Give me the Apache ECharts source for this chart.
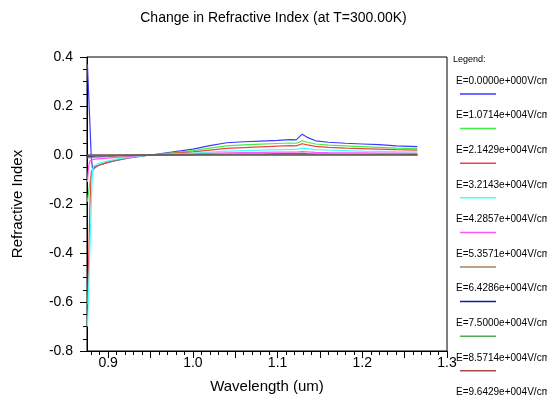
<!DOCTYPE html>
<html>
<head>
<meta charset="utf-8">
<script src="https://cdn.jsdelivr.net/npm/echarts@6/dist/echarts.min.js"></script>
<style>
  html, body { margin: 0; padding: 0; background: #fff; }
  #chart { width: 547px; height: 401px; }
</style>
</head>
<body>
<div id="chart"></div>
<script type="text/javascript">
// wavelength samples (um)
var wavelength = [0.8755, 0.877, 0.8785, 0.880, 0.8815, 0.883, 0.885, 0.888, 0.892, 0.9,
  0.91, 0.925, 0.95, 0.975, 1.0, 1.02, 1.04, 1.06, 1.08, 1.1,
  1.115, 1.122, 1.129, 1.135, 1.145, 1.16, 1.18, 1.2, 1.22, 1.24, 1.265];

var e0 = [0.37, 0.245, 0.119, -0.007, -0.055, -0.05, -0.047, -0.043, -0.038, -0.03,
  -0.022, -0.012, 0.0, 0.012, 0.024, 0.038, 0.05, 0.054, 0.057, 0.06,
  0.063, 0.062, 0.085, 0.072, 0.058, 0.052, 0.048, 0.045, 0.042, 0.037, 0.034];
var e1 = [-0.19, -0.15, -0.11, -0.085, -0.068, -0.057, -0.05, -0.044, -0.038, -0.029,
  -0.02, -0.011, 0.0, 0.009, 0.018, 0.028, 0.037, 0.041, 0.044, 0.047,
  0.049, 0.048, 0.058, 0.052, 0.045, 0.04, 0.037, 0.034, 0.031, 0.028, 0.026];
var e2 = [-0.61, -0.42, -0.2, -0.07, -0.058, -0.053, -0.049, -0.044, -0.038, -0.029,
  -0.02, -0.01, 0.0, 0.007, 0.013, 0.02, 0.027, 0.03, 0.033, 0.036,
  0.038, 0.037, 0.046, 0.041, 0.035, 0.031, 0.028, 0.026, 0.024, 0.022, 0.02];
var e3 = [-0.70, -0.55, -0.38, -0.21, -0.06, -0.045, -0.04, -0.035, -0.03, -0.024,
  -0.017, -0.009, 0.0, 0.005, 0.008, 0.012, 0.016, 0.018, 0.02, 0.022,
  0.023, 0.023, 0.028, 0.026, 0.022, 0.02, 0.018, 0.016, 0.015, 0.014, 0.013];
var e4 = [-0.11, -0.045, -0.024, -0.021, -0.019, -0.018, -0.017, -0.016, -0.015, -0.013,
  -0.01, -0.006, 0.0, 0.003, 0.005, 0.007, 0.009, 0.01, 0.011, 0.012,
  0.012, 0.012, 0.014, 0.013, 0.011, 0.01, 0.009, 0.009, 0.008, 0.008, 0.007];
var e5 = [-0.012, -0.012, -0.011, -0.011, -0.01, -0.01, -0.009, -0.009, -0.008, -0.007,
  -0.005, -0.003, 0.0, 0.001, 0.002, 0.003, 0.004, 0.005, 0.005, 0.006,
  0.006, 0.006, 0.007, 0.006, 0.005, 0.005, 0.004, 0.004, 0.004, 0.004, 0.003];
var e6 = [-0.006, -0.006, -0.005, -0.005, -0.005, -0.005, -0.004, -0.004, -0.004, -0.003,
  -0.002, -0.001, 0.0, 0.001, 0.001, 0.001, 0.002, 0.002, 0.002, 0.003,
  0.003, 0.003, 0.003, 0.003, 0.002, 0.002, 0.002, 0.002, 0.002, 0.002, 0.001];
var e7 = [-0.002, -0.002, -0.002, -0.002, -0.002, -0.002, -0.001, -0.001, -0.001, -0.001,
  -0.001, 0.0, 0.0, 0.0, 0.0, 0.001, 0.001, 0.001, 0.001, 0.001,
  0.001, 0.001, 0.001, 0.001, 0.001, 0.001, 0.001, 0.001, 0.001, 0.001, 0.0];
var e8 = [0.0, 0.0, 0.0, 0.0, 0.0, 0.0, 0.0, 0.0, 0.0, 0.0,
  0.0, 0.0, 0.0, 0.0, 0.0, 0.0, 0.0, 0.0, 0.0, 0.0,
  0.0, 0.0, 0.0, 0.0, 0.0, 0.0, 0.0, 0.0, 0.0, 0.0, 0.0];
var e9 = [0.0, 0.0, 0.0, 0.0, 0.0, 0.0, 0.0, 0.0, 0.0, 0.0,
  0.0, 0.0, 0.0, 0.0, 0.0, 0.0, 0.0, 0.0, 0.0, 0.0,
  0.0, 0.0, 0.0, 0.0, 0.0, 0.0, 0.0, 0.0, 0.0, 0.0, 0.0];

var seriesNames = ['E=0.0000e+000V/cm', 'E=1.0714e+004V/cm', 'E=2.1429e+004V/cm',
  'E=3.2143e+004V/cm', 'E=4.2857e+004V/cm', 'E=5.3571e+004V/cm', 'E=6.4286e+004V/cm',
  'E=7.5000e+004V/cm', 'E=8.5714e+004V/cm', 'E=9.6429e+004V/cm'];
var seriesValues = [e0, e1, e2, e3, e4, e5, e6, e7, e8, e9];
var seriesColors = ['#3b3bff', '#44ee44', '#ee4444', '#44ffff', '#ff55ff',
  '#a8825f', '#1a1a99', '#55aa55', '#aa4848', '#606060'];

var xLabelTicks = [0.9, 1.0, 1.1, 1.2, 1.3];
var xMajorTicks = [0.9, 0.95, 1.0, 1.05, 1.1, 1.15, 1.2, 1.25, 1.3];
var xMinorTicks = [0.88, 0.89, 0.91, 0.92, 0.93, 0.94, 0.96, 0.97, 0.98, 0.99,
  1.01, 1.02, 1.03, 1.04, 1.06, 1.07, 1.08, 1.09, 1.11, 1.12, 1.13, 1.14,
  1.16, 1.17, 1.18, 1.19, 1.21, 1.22, 1.23, 1.24, 1.26, 1.27, 1.28, 1.29];

var font = 'Liberation Sans, Arial, sans-serif';
var myChart = echarts.init(document.getElementById('chart'));

var series = seriesValues.map(function (vals, i) {
  return {
    name: seriesNames[i],
    type: 'line',
    symbol: 'none',
    animation: false,
    lineStyle: { color: seriesColors[i], width: 1.2 },
    data: vals.map(function (v, j) { return [wavelength[j], v]; })
  };
});

// legend: text with a short line beneath it
var graphics = [{
  type: 'text', left: 453, top: 55,
  style: { text: 'Legend:', font: '9px ' + font, fill: '#000' }
}];
seriesNames.forEach(function (n, i) {
  var y = 76 + i * 34.6;
  graphics.push({
    type: 'text', left: 456, top: y,
    style: { text: n, font: '10px ' + font, fill: '#000' }
  });
  graphics.push({
    type: 'line',
    shape: { x1: 460, y1: y + 18, x2: 496, y2: y + 18 },
    style: { stroke: seriesColors[i], lineWidth: 1.5 }
  });
});

var option = {
  backgroundColor: '#fff',
  animation: false,
  title: {
    text: 'Change in Refractive Index (at T=300.00K)',
    left: 'center', top: 6,
    textStyle: { fontFamily: font, fontSize: 14, fontWeight: 'normal', color: '#000' }
  },
  grid: {
    show: true, left: 87, top: 57, right: 100, bottom: 50,
    borderColor: '#000', borderWidth: 1
  },
  xAxis: [{
    type: 'value', min: 0.875, max: 1.3,
    name: 'Wavelength (um)', nameLocation: 'middle', nameGap: 28,
    nameTextStyle: { fontFamily: font, fontSize: 15, color: '#000' },
    axisLine: { onZero: false, lineStyle: { color: '#000' } },
    axisTick: { inside: false, length: 7, customValues: xMajorTicks, lineStyle: { color: '#000' } },
    axisLabel: { customValues: xLabelTicks, margin: 5, fontFamily: font, fontSize: 14, color: '#000',
      formatter: function (v) { return v.toFixed(1); } },
    splitLine: { show: false }
  }, {
    type: 'value', min: 0.875, max: 1.3, position: 'bottom',
    axisLine: { show: false, onZero: false },
    axisTick: { inside: false, length: 4, customValues: xMinorTicks, lineStyle: { color: '#000' } },
    axisLabel: { show: false },
    splitLine: { show: false }
  }],
  yAxis: {
    type: 'value', min: -0.8, max: 0.4, interval: 0.2,
    name: 'Refractive Index', nameLocation: 'middle', nameGap: 62,
    nameTextStyle: { fontFamily: font, fontSize: 15, color: '#000' },
    axisLine: { show: true, onZero: false, lineStyle: { color: '#000' } },
    axisTick: { show: true, inside: false, length: 7, lineStyle: { color: '#000' } },
    minorTick: { show: true, splitNumber: 4, length: 4, lineStyle: { color: '#000' } },
    axisLabel: { margin: 14, fontFamily: font, fontSize: 14, color: '#000',
      formatter: function (v) { return v.toFixed(1); } },
    splitLine: { show: false }
  },
  series: series,
  graphic: graphics
};

myChart.setOption(option);
</script>
</body>
</html>
